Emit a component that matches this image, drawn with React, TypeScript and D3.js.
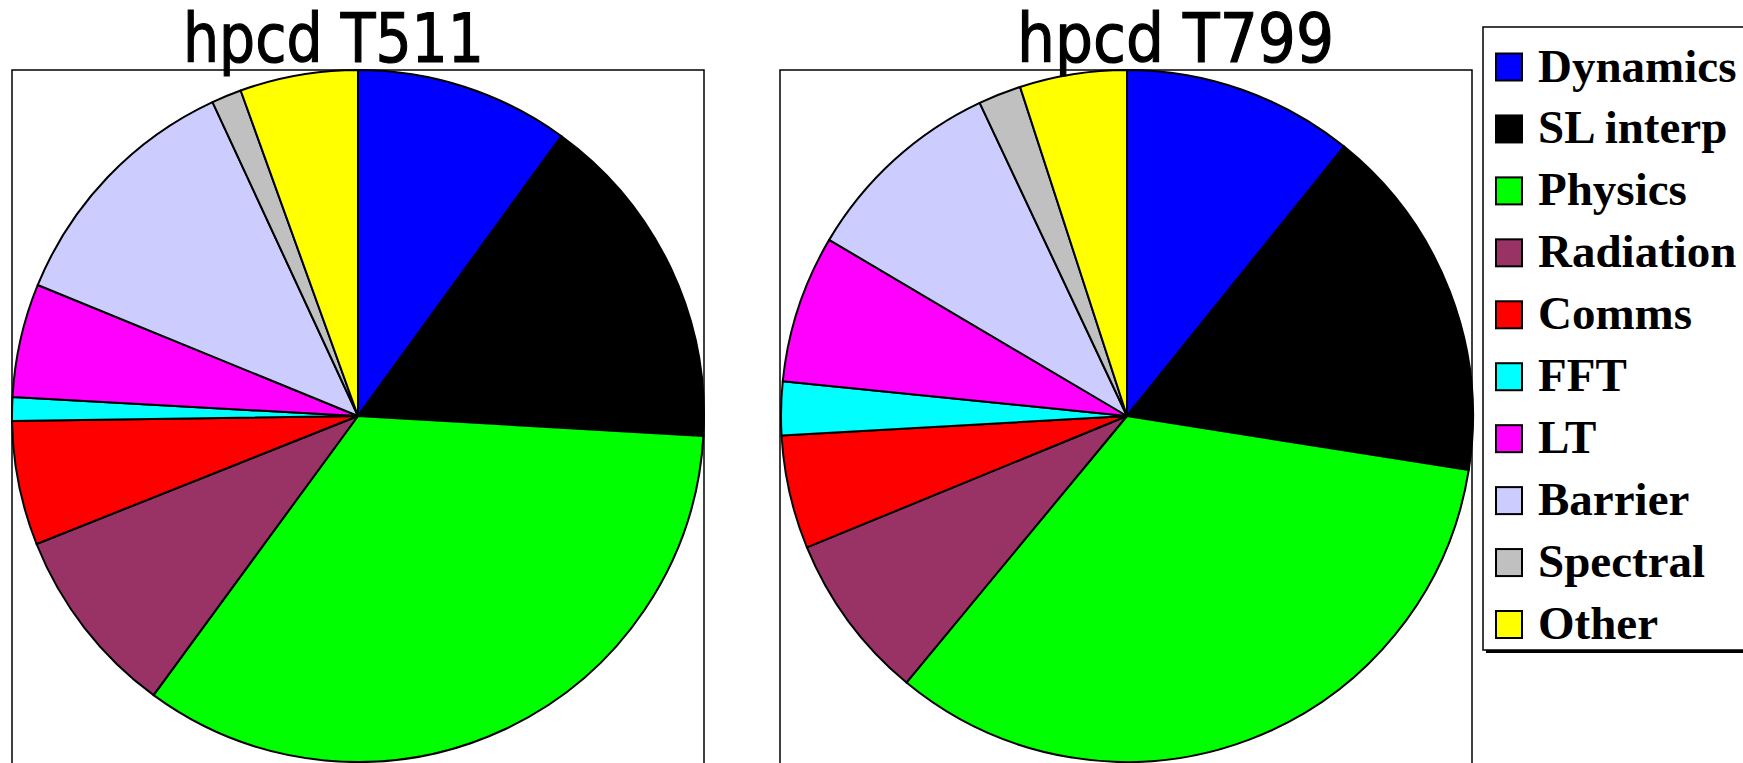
import { useEffect, useRef } from 'react';
import * as d3 from 'd3';

const categories = ['Dynamics', 'SL interp', 'Physics', 'Radiation', 'Comms', 'FFT', 'LT', 'Barrier', 'Spectral', 'Other'];
const colors = ['#0000ff', '#000000', '#00ff00', '#993366', '#ff0000', '#00ffff', '#ff00ff', '#ccccff', '#c0c0c0', '#ffff00'];
const t511Values = [10.0, 15.9, 34.1, 8.9, 5.8, 1.1, 5.3, 11.9, 1.4, 5.5];
const t799Values = [10.8, 16.7, 33.5, 7.8, 5.3, 2.5, 6.9, 9.5, 2.0, 5.0];
const titles = ['hpcd T511', 'hpcd T799'];

const W = 1743;
const H = 763;

export default function App() {
  const svgRef = useRef<SVGSVGElement>(null);

  useEffect(() => {
    if (!svgRef.current) return;
    const svg = d3.select(svgRef.current);
    svg.selectAll('*').remove();

    const panels = [
      { title: titles[0], values: t511Values, cx: 358, frame: [12, 704], titleX: 183, titleW: 301 },
      { title: titles[1], values: t799Values, cx: 1127, frame: [780, 1472], titleX: 1017, titleW: 317 },
    ];
    const cy = 416;
    const radius = 346;

    const pie = d3.pie<number>().sort(null).value(d => d);
    const arc = d3.arc<d3.PieArcDatum<number>>().innerRadius(0).outerRadius(radius);

    panels.forEach(p => {
      // frame (open at the bottom, runs off the page)
      svg.append('path')
        .attr('d', `M${p.frame[0]},${H + 5}V70H${p.frame[1]}V${H + 5}`)
        .attr('fill', 'none')
        .attr('stroke', '#000')
        .attr('stroke-width', 1.5);

      const g = svg.append('g').attr('transform', `translate(${p.cx},${cy})`);
      g.selectAll('path.slice')
        .data(pie(p.values))
        .enter().append('path')
        .attr('class', 'slice')
        .attr('d', arc)
        .attr('fill', (d, i) => colors[i])
        .attr('stroke', '#000')
        .attr('stroke-width', 2)
        .attr('stroke-linejoin', 'round');

      svg.append('text')
        .attr('x', p.titleX)
        .attr('y', 62)
        .attr('font-family', "'Comic Sans MS', 'DejaVu Sans', sans-serif")
        .attr('font-size', 67)
        .attr('textLength', p.titleW)
        .attr('lengthAdjust', 'spacingAndGlyphs')
        .attr('fill', '#000')
        .attr('stroke', '#000')
        .attr('stroke-width', 1.2)
        .text(p.title);
    });

    // legend
    const lx = 1483;
    const ly = 27;
    const lw = 300;
    const lh = 623;
    svg.append('rect')
      .attr('x', lx + 3).attr('y', ly + 3)
      .attr('width', lw).attr('height', lh)
      .attr('fill', '#000');
    svg.append('rect')
      .attr('x', lx).attr('y', ly)
      .attr('width', lw).attr('height', lh)
      .attr('fill', '#fff')
      .attr('stroke', '#000')
      .attr('stroke-width', 1.5);

    const rowY = d3.scalePoint<string>()
      .domain(categories)
      .range([66.5, 624]);

    const rows = svg.selectAll('g.row')
      .data(categories)
      .enter().append('g')
      .attr('class', 'row')
      .attr('transform', d => `translate(0,${rowY(d)})`);

    rows.append('rect')
      .attr('x', 1496).attr('y', -13)
      .attr('width', 26).attr('height', 27)
      .attr('fill', (d, i) => colors[i])
      .attr('stroke', '#000')
      .attr('stroke-width', 2);

    rows.append('text')
      .attr('x', 1538)
      .attr('y', 15)
      .attr('font-family', "'Liberation Serif', 'Times New Roman', serif")
      .attr('font-weight', 'bold')
      .attr('font-size', 47)
      .attr('fill', '#000')
      .text(d => d);
  }, []);

  return (
    <svg
      ref={svgRef}
      width={W}
      height={H}
      style={{ position: 'absolute', left: 0, top: 0, display: 'block', background: '#fff' }}
    />
  );
}
